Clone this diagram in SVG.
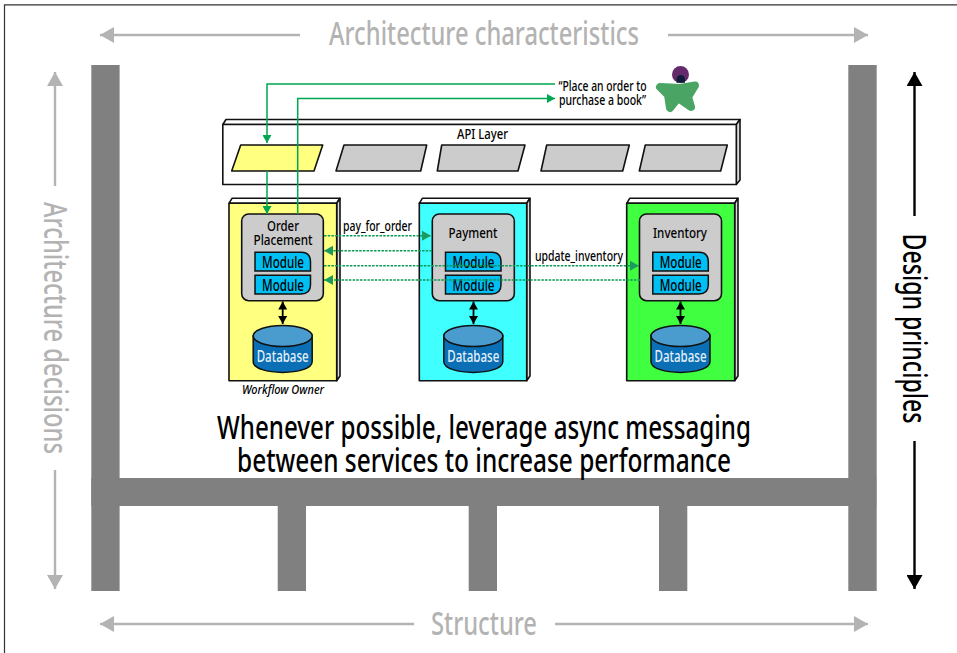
<svg xmlns="http://www.w3.org/2000/svg" width="957" height="653" viewBox="0 0 957 653">
<style>
text{font-family:"Noto Sans","Open Sans","Liberation Sans",sans-serif;fill:#000;font-weight:500}
.big{font-size:32px;fill:#b3b3b3;text-anchor:middle}
.ink{font-size:32px;fill:#000;text-anchor:middle}
.t{font-size:15px;text-anchor:middle}
.lb{font-size:14.500px;text-anchor:middle}
.mod{font-size:17px;text-anchor:middle;fill:#000}
.db{font-size:17px;text-anchor:middle;fill:#e4f0f8}
.pillar{fill:#808080}
.svc{stroke:#111;stroke-width:1.6;stroke-linejoin:round}
.g{fill:none;stroke:#00a651;stroke-width:1.5}
.d{fill:none;stroke:#0a9a55;stroke-width:1.5;stroke-dasharray:2.500 1.200}
.gl{fill:none;stroke:#b3b3b3;stroke-width:2.4}
.bk{fill:none;stroke:#000;stroke-width:2.4}
.bs{fill:none;stroke:#000;stroke-width:1.8}
</style>
<defs>
<marker id="ag" viewBox="0 0 8 9" refX="8" refY="4.500" markerWidth="8" markerHeight="9" markerUnits="userSpaceOnUse" orient="auto-start-reverse"><path d="M0 0L8 4.500L0 9z" fill="#00a651"/></marker>
<marker id="ad" viewBox="0 0 9 10" refX="9" refY="5" markerWidth="9" markerHeight="10" markerUnits="userSpaceOnUse" orient="auto-start-reverse"><path d="M0 0L9 5L0 10z" fill="#1b9c5e"/></marker>
<marker id="agr" viewBox="0 0 14 16" refX="14" refY="8" markerWidth="14" markerHeight="16" markerUnits="userSpaceOnUse" orient="auto-start-reverse"><path d="M0 0L14 8L0 16z" fill="#b3b3b3"/></marker>
<marker id="abk" viewBox="0 0 14 16" refX="14" refY="8" markerWidth="14" markerHeight="16" markerUnits="userSpaceOnUse" orient="auto-start-reverse"><path d="M0 0L14 8L0 16z" fill="#000"/></marker>
<marker id="ab2" viewBox="0 0 8 9" refX="8" refY="4.500" markerWidth="8" markerHeight="9" markerUnits="userSpaceOnUse" orient="auto-start-reverse"><path d="M0 0L8 4.500L0 9z" fill="#000"/></marker>
<g id="modT"><path d="M0 0H46Q55.500 0 55.500 9.500V18.700H0z" fill="#00bff3" stroke="#111" stroke-width="1.500"/></g>
<g id="modB"><path d="M0 0H55.500V9.500Q55.500 18.700 46 18.700H0z" fill="#00bff3" stroke="#111" stroke-width="1.500"/></g>
<g id="cyl"><path d="M0 11V36.500C0 51 59 51 59 36.500V11z" fill="#0a6fb5" stroke="#111" stroke-width="1.500"/><ellipse cx="29.500" cy="11" rx="29.500" ry="10.500" fill="#4a9bce" stroke="#111" stroke-width="1.500"/></g>
</defs>
<rect width="957" height="653" fill="#fff"/>
<path id="frame" d="M4.500 653V4.800H957" fill="none" stroke="#333" stroke-width="1.200"/>
<g id="house" class="pillar">
<rect x="91.300" y="65" width="28.300" height="526"/><rect x="848.300" y="65" width="28.400" height="526"/>
<rect x="91.300" y="478" width="785" height="28"/>
<rect x="277.700" y="478" width="28.300" height="113"/><rect x="468.700" y="478" width="28.300" height="113"/><rect x="659" y="478" width="28.300" height="113"/>
</g>
<g id="axes">
<path class="gl" d="M300 35H100" marker-end="url(#agr)"/><path class="gl" d="M668 35H868" marker-end="url(#agr)"/>
<path class="gl" d="M414 624H100" marker-end="url(#agr)"/><path class="gl" d="M555 624H868" marker-end="url(#agr)"/>
<path class="gl" d="M55 186V72" marker-end="url(#agr)"/><path class="gl" d="M55 470V589" marker-end="url(#agr)"/>
<path class="bk" d="M914.500 216V72" marker-end="url(#abk)"/><path class="bk" d="M914.500 441V589" marker-end="url(#abk)"/>
<text class="big" x="484" y="45" textLength="310" lengthAdjust="spacingAndGlyphs">Architecture characteristics</text>
<text class="big" x="484" y="635" textLength="106" lengthAdjust="spacingAndGlyphs">Structure</text>
<text class="big" transform="translate(44 328) rotate(90)" textLength="252" lengthAdjust="spacingAndGlyphs">Architecture decisions</text>
<text class="ink" transform="translate(902.500 328.500) rotate(90)" textLength="190" lengthAdjust="spacingAndGlyphs">Design principles</text>
</g>
<text class="ink" x="484" y="439" textLength="534" lengthAdjust="spacingAndGlyphs">Whenever possible, leverage async messaging</text>
<text class="ink" x="484" y="472" textLength="494" lengthAdjust="spacingAndGlyphs">between services  to increase performance</text>
<g id="user"><text class="lb" x="602.500" y="90.700" textLength="88" lengthAdjust="spacingAndGlyphs">“Place an order to</text><text class="lb" x="602.500" y="105" textLength="87" lengthAdjust="spacingAndGlyphs">purchase a book”</text>
<path d="M660 87L680 88L695 85.500L688 97L691 107L678 98L670 108L668 95z" fill="#4aa564" stroke="#4aa564" stroke-width="8" stroke-linejoin="round"/>
<circle cx="680.500" cy="74.500" r="8.500" fill="#642a6b"/><path d="M676.500 82.700Q675.500 75 680.700 75Q686 75 685 82.700z" fill="#101b3a"/></g>
<g id="api-layer">
<path class="svc" d="M222.800 124.500L226 119.500H740L736.300 124.500z" fill="#fff"/>
<path class="svc" d="M736.300 124.500L740 119.500V180L736.300 184.500z" fill="#ddd"/>
<rect class="svc" x="222.800" y="124.500" width="513.500" height="60" fill="#fff"/>
<text class="lb" x="482.500" y="138.700" textLength="51" lengthAdjust="spacingAndGlyphs">API Layer</text>
<path class="svc" d="M240.700 145H322.700L314 171H231.700z" fill="#ffff80"/>
<path class="svc" d="M344 145H426.700L420.700 171H336z" fill="#ccc"/>
<path class="svc" d="M441.700 145H525L518 171H437.300z" fill="#ccc"/>
<path class="svc" d="M546.700 145H629.300L622.700 171H541z" fill="#ccc"/>
<path class="svc" d="M645.300 145H727.300L720.700 171H639.300z" fill="#ccc"/>
</g>
<g id="order-placement">
<path class="svc" d="M229 203.300L232 198.300H340L336.700 203.300z" fill="#fff"/><path class="svc" d="M336.700 203.300L340 198.300V376L336.700 380.700z" fill="#ddd"/>
<rect class="svc" x="229" y="203.300" width="107.700" height="177.400" fill="#ffff80"/>
<rect class="svc" x="241.700" y="214" width="81.600" height="86.700" rx="7" fill="#ccc"/>
<text class="t" x="283" y="230.700" textLength="32" lengthAdjust="spacingAndGlyphs">Order</text><text class="t" x="283" y="245" textLength="59" lengthAdjust="spacingAndGlyphs">Placement</text>
<use href="#modT" x="255" y="252.300"/><use href="#modB" x="255" y="275.300"/>
<text class="mod" x="283" y="267.500" textLength="42" lengthAdjust="spacingAndGlyphs">Module</text><text class="mod" x="283" y="290.500" textLength="42" lengthAdjust="spacingAndGlyphs">Module</text>
<use href="#cyl" x="253.200" y="325"/><text class="db" x="282.700" y="362" textLength="52" lengthAdjust="spacingAndGlyphs">Database</text>
<path class="bs" d="M282.700 301.500V324" marker-start="url(#ab2)" marker-end="url(#ab2)"/>
<text x="283" y="394" font-size="13" font-style="italic" text-anchor="middle" textLength="82" lengthAdjust="spacingAndGlyphs">Workflow Owner</text>
</g>
<g id="payment">
<path class="svc" d="M419.300 203.300L422.300 198.300H530L526.700 203.300z" fill="#fff"/><path class="svc" d="M526.700 203.300L530 198.300V376L526.700 380.700z" fill="#ddd"/>
<rect class="svc" x="419.300" y="203.300" width="107.400" height="177.400" fill="#40ffff"/>
<rect class="svc" x="432.300" y="214" width="82" height="86.700" rx="7" fill="#ccc"/>
<text class="t" x="473" y="238" textLength="49" lengthAdjust="spacingAndGlyphs">Payment</text>
<use href="#modT" x="445.500" y="252.300"/><use href="#modB" x="445.500" y="275.300"/>
<text class="mod" x="473.500" y="267.500" textLength="42" lengthAdjust="spacingAndGlyphs">Module</text><text class="mod" x="473.500" y="290.500" textLength="42" lengthAdjust="spacingAndGlyphs">Module</text>
<use href="#cyl" x="443.800" y="325"/><text class="db" x="473.300" y="362" textLength="52" lengthAdjust="spacingAndGlyphs">Database</text>
<path class="bs" d="M473.500 301.500V324" marker-start="url(#ab2)" marker-end="url(#ab2)"/>
</g>
<g id="inventory">
<path class="svc" d="M626.700 203.300L629.700 198.300H738L734.700 203.300z" fill="#fff"/><path class="svc" d="M734.700 203.300L738 198.300V376L734.700 380.700z" fill="#ddd"/>
<rect class="svc" x="626.700" y="203.300" width="108" height="177.400" fill="#40ff40"/>
<rect class="svc" x="639.500" y="214" width="82" height="86.700" rx="7" fill="#ccc"/>
<text class="t" x="680" y="238" textLength="54" lengthAdjust="spacingAndGlyphs">Inventory</text>
<use href="#modT" x="652.800" y="252.300"/><use href="#modB" x="652.800" y="275.300"/>
<text class="mod" x="680.700" y="267.500" textLength="42" lengthAdjust="spacingAndGlyphs">Module</text><text class="mod" x="680.700" y="290.500" textLength="42" lengthAdjust="spacingAndGlyphs">Module</text>
<use href="#cyl" x="651" y="325"/><text class="db" x="680.500" y="362" textLength="52" lengthAdjust="spacingAndGlyphs">Database</text>
<path class="bs" d="M680.500 301.500V324" marker-start="url(#ab2)" marker-end="url(#ab2)"/>
</g>
<g id="connectors">
<path class="g" d="M555 84H267V143" marker-end="url(#ag)"/>
<path class="g" d="M267 171V214" marker-end="url(#ag)"/>
<path class="g" d="M297.700 214V98.500H555" marker-end="url(#ag)"/>
<path class="d" d="M324 235.700H431" marker-end="url(#ad)"/>
<path class="d" d="M432 250.700H324" marker-end="url(#ad)"/>
<path class="d" d="M324 265.700H639" marker-end="url(#ad)"/>
<path class="d" d="M640 280H324" marker-end="url(#ad)"/>
<text class="lb" x="377.500" y="230.700" textLength="69" lengthAdjust="spacingAndGlyphs">pay_for_order</text>
<text class="lb" x="579" y="260.700" textLength="88" lengthAdjust="spacingAndGlyphs">update_inventory</text>
</g>
</svg>
